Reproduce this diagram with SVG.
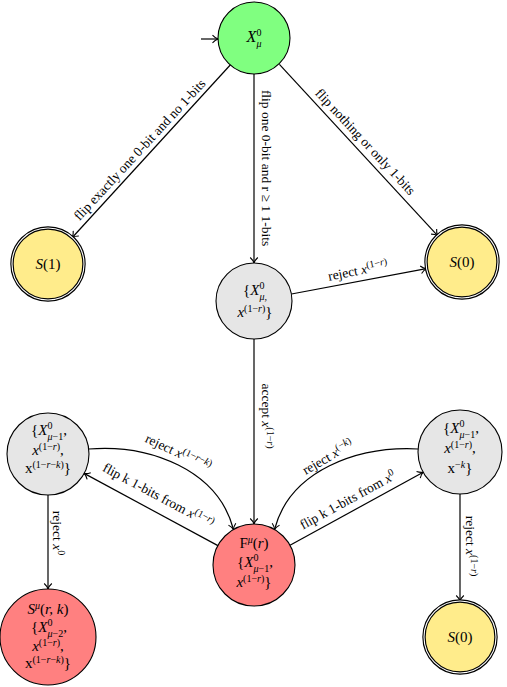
<svg xmlns="http://www.w3.org/2000/svg" width="507" height="687" viewBox="0 0 507 687" font-family="'Liberation Serif','Times New Roman',serif">
<defs>
<marker id="ah" markerUnits="userSpaceOnUse" markerWidth="12" markerHeight="12" refX="0" refY="0" orient="auto" overflow="visible">
<path d="M-5.5,-3.8 C-3.5,-1.6 -1.2,-0.4 0,0 C-1.2,0.4 -3.5,1.6 -5.5,3.8" fill="none" stroke="#000" stroke-width="1.1"/>
</marker>
<style>
svg, text, tspan{font-family:'Liberation Serif','Times New Roman',serif}
text{fill:#000}
.n{font-size:15px;text-anchor:middle}
.l{font-size:13.5px;text-anchor:middle}
.i{font-style:italic}
.s{font-size:10px}
.e{stroke:#000;stroke-width:1.2;fill:none;marker-end:url(#ah)}
.c{stroke:#000;stroke-width:1.1}
.acc{fill:none;stroke:#fff;stroke-width:1.1}
</style>
</defs>
<g id="connectors">
<line class="e" x1="201" y1="39" x2="218" y2="39"/>
<line class="e" x1="230.7" y1="64.5" x2="72.3" y2="237.5"/>
<line class="e" x1="254" y1="74" x2="254" y2="263"/>
<line class="e" x1="279.4" y1="64.4" x2="437.6" y2="235.6"/>
<line class="e" x1="291.5" y1="294" x2="426.3" y2="268.7"/>
<line class="e" x1="254" y1="339" x2="254" y2="524"/>
<path class="e" d="M88.7,449 C150,444 218,470 233.5,529.5"/>
<line class="e" x1="217.9" y1="545.6" x2="84.1" y2="473.4"/>
<path class="e" d="M418,449 C358,446 290,470 274.5,529.5"/>
<line class="e" x1="290" y1="545.3" x2="423.2" y2="472.2"/>
<line class="e" x1="48" y1="495" x2="48" y2="589"/>
<line class="e" x1="460" y1="494" x2="460" y2="601"/>
<g transform="translate(140,150) rotate(-47.2)"><text class="l" y="4">flip exactly one 0-bit and no 1-bits</text></g>
<g transform="translate(266,168) rotate(90)"><text class="l" y="4">flip one 0-bit and r ≥ 1 1-bits</text></g>
<g transform="translate(365,142) rotate(47)"><text class="l" y="4">flip nothing or only 1-bits</text></g>
<g transform="translate(358,271) rotate(-11)"><text class="l" y="4">reject <tspan class="i">x</tspan><tspan class="s" dy="-5">(1−</tspan><tspan class="s i">r</tspan><tspan class="s">)</tspan></text></g>
<g transform="translate(266,416) rotate(90)"><text class="l" y="4">accept <tspan class="i">x</tspan><tspan class="s" dy="-5">(1−</tspan><tspan class="s i">r</tspan><tspan class="s">)</tspan></text></g>
<g transform="translate(178,453) rotate(25)"><text class="l" y="4">reject <tspan class="i">x</tspan><tspan class="s" dy="-5">(1−</tspan><tspan class="s i">r</tspan><tspan class="s">−</tspan><tspan class="s i">k</tspan><tspan class="s">)</tspan></text></g>
<g transform="translate(158,496) rotate(28)"><text class="l" y="4">flip k 1-bits from <tspan class="i">x</tspan><tspan class="s" dy="-5">(1−</tspan><tspan class="s i">r</tspan><tspan class="s">)</tspan></text></g>
<g transform="translate(328,457.5) rotate(-30)"><text class="l" y="4">reject <tspan class="i">x</tspan><tspan class="s" dy="-5">(−</tspan><tspan class="s i">k</tspan><tspan class="s">)</tspan></text></g>
<g transform="translate(348,500.5) rotate(-28.8)"><text class="l" y="4">flip k 1-bits from <tspan class="i">x</tspan><tspan class="s" dy="-5">0</tspan></text></g>
<g transform="translate(57,533) rotate(90)"><text class="l" y="4">reject <tspan class="i">x</tspan><tspan class="s" dy="-5">0</tspan></text></g>
<g transform="translate(470,546) rotate(90)"><text class="l" y="4">reject <tspan class="i">x</tspan><tspan class="s" dy="-5">(1−</tspan><tspan class="s i">r</tspan><tspan class="s">)</tspan></text></g>
</g>
<g id="start">
<circle cx="254" cy="38" r="36" fill="#80ff80" class="c"/>
<text class="n" x="254" y="42" style="font-size:16px"><tspan class="i">X</tspan><tspan class="s" dy="-6.5">0</tspan><tspan class="s i" dx="-5" dy="11.5">μ</tspan></text>
</g>
<g id="s1">
<circle cx="48" cy="264" r="36" fill="#ffec8b" stroke="#000" stroke-width="3.4"/>
<circle cx="48" cy="264" r="36" class="acc"/>
<text class="n" x="48" y="269"><tspan class="i">S</tspan>(1)</text>
</g>
<g id="s0top">
<circle cx="462" cy="262" r="36" fill="#ffec8b" stroke="#000" stroke-width="3.4"/>
<circle cx="462" cy="262" r="36" class="acc"/>
<text class="n" x="462" y="267"><tspan class="i">S</tspan>(0)</text>
</g>
<g id="mid">
<circle cx="254" cy="301" r="38" fill="#e6e6e6" class="c"/>
<text class="n" x="255" y="295">{<tspan class="i">X</tspan><tspan class="s" dy="-6.5">0</tspan><tspan class="s i" dx="-5" dy="11">μ</tspan><tspan class="s">,</tspan></text>
<text class="n" x="255" y="317"><tspan class="i">x</tspan><tspan class="s" dy="-5">(1−</tspan><tspan class="s i">r</tspan><tspan class="s">)</tspan><tspan dy="5">}</tspan></text>
</g>
<g id="leftgray">
<circle cx="48" cy="454" r="41" fill="#e6e6e6" class="c"/>
<text class="n" x="49" y="435">{<tspan class="i">X</tspan><tspan class="s" dy="-6.5">0</tspan><tspan class="s i" dx="-5" dy="11">μ</tspan><tspan class="s">−1</tspan><tspan dy="-4.5">,</tspan></text>
<text class="n" x="48" y="455"><tspan class="i">x</tspan><tspan class="s" dy="-5">(1−</tspan><tspan class="s i">r</tspan><tspan class="s">)</tspan><tspan dy="5">,</tspan></text>
<text class="n" x="48" y="473">x<tspan class="s" dy="-5">(1−</tspan><tspan class="s i">r</tspan><tspan class="s">−</tspan><tspan class="s i">k</tspan><tspan class="s">)</tspan><tspan dy="5">}</tspan></text>
</g>
<g id="rightgray">
<circle cx="460" cy="452" r="42" fill="#e6e6e6" class="c"/>
<text class="n" x="461" y="433">{<tspan class="i">X</tspan><tspan class="s" dy="-6.5">0</tspan><tspan class="s i" dx="-5" dy="11">μ</tspan><tspan class="s">−1</tspan><tspan dy="-4.5">,</tspan></text>
<text class="n" x="460" y="453"><tspan class="i">x</tspan><tspan class="s" dy="-5">(1−</tspan><tspan class="s i">r</tspan><tspan class="s">)</tspan><tspan dy="5">,</tspan></text>
<text class="n" x="460" y="473">x<tspan class="s" dy="-5">−</tspan><tspan class="s i">k</tspan><tspan dy="5">}</tspan></text>
</g>
<g id="fail">
<circle cx="254" cy="565" r="41" fill="#ff8080" class="c"/>
<text class="n" x="254" y="548">F<tspan class="s i" dy="-5">μ</tspan><tspan dy="5">(</tspan><tspan class="i">r</tspan>)</text>
<text class="n" x="255" y="567">{<tspan class="i">X</tspan><tspan class="s" dy="-6.5">0</tspan><tspan class="s i" dx="-5" dy="11">μ</tspan><tspan class="s">−1</tspan><tspan dy="-4.5">,</tspan></text>
<text class="n" x="254" y="587"><tspan class="i">x</tspan><tspan class="s" dy="-5">(1−</tspan><tspan class="s i">r</tspan><tspan class="s">)</tspan><tspan dy="5">}</tspan></text>
</g>
<g id="smu">
<circle cx="48" cy="637" r="48" fill="#ff8080" class="c"/>
<text class="n" x="48" y="614"><tspan class="i">S</tspan><tspan class="s i" dy="-5">μ</tspan><tspan dy="5">(</tspan><tspan class="i">r, k</tspan>)</text>
<text class="n" x="49" y="632">{<tspan class="i">X</tspan><tspan class="s" dy="-6.5">0</tspan><tspan class="s i" dx="-5" dy="11">μ</tspan><tspan class="s">−2</tspan><tspan dy="-4.5">,</tspan></text>
<text class="n" x="48" y="651"><tspan class="i">x</tspan><tspan class="s" dy="-5">(1−</tspan><tspan class="s i">r</tspan><tspan class="s">)</tspan><tspan dy="5">,</tspan></text>
<text class="n" x="48" y="668">x<tspan class="s" dy="-5">(1−</tspan><tspan class="s i">r</tspan><tspan class="s">−</tspan><tspan class="s i">k</tspan><tspan class="s">)</tspan><tspan dy="5">}</tspan></text>
</g>
<g id="s0bottom">
<circle cx="460" cy="637" r="36" fill="#ffec8b" stroke="#000" stroke-width="3.4"/>
<circle cx="460" cy="637" r="36" class="acc"/>
<text class="n" x="460" y="642"><tspan class="i">S</tspan>(0)</text>
</g>
</svg>
